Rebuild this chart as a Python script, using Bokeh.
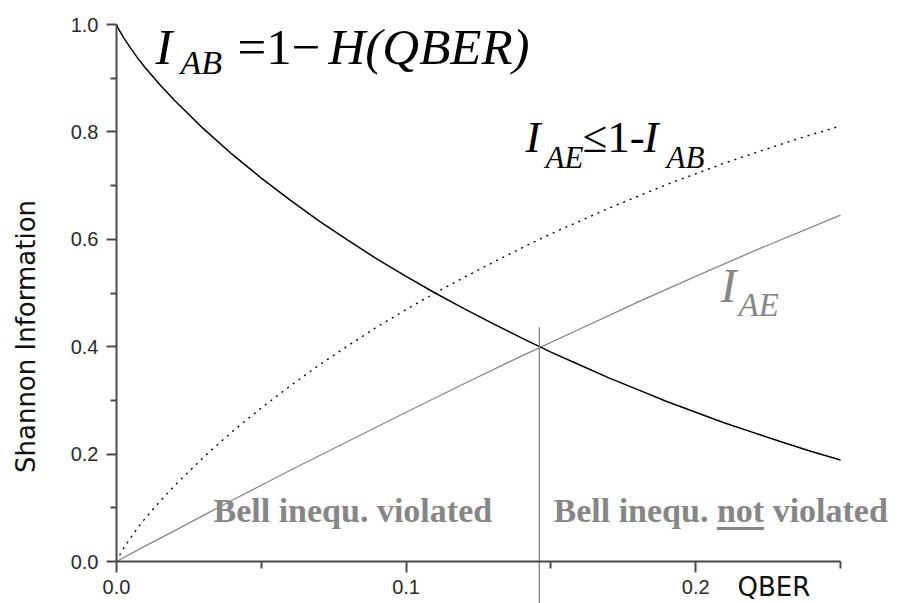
import math
from bokeh.plotting import figure
from bokeh.models import Range1d, FixedTicker, PrintfTickFormatter, Label, LinearAxis
from bokeh.embed import file_html
from bokeh.resources import INLINE

# ---------------- data ----------------
qber = [0.0, 0.0005, 0.001, 0.0025, 0.005, 0.0075, 0.01, 0.015, 0.02, 0.03, 0.04,
        0.05, 0.06, 0.07, 0.08, 0.09, 0.10, 0.11, 0.12, 0.13, 0.14, 0.15, 0.16,
        0.17, 0.18, 0.19, 0.20, 0.21, 0.22, 0.23, 0.24, 0.25]
# dotted curve: 1 - I_AB
one_minus_iab = [0.0, 0.006, 0.011, 0.025, 0.045, 0.064, 0.081, 0.112, 0.141, 0.194, 0.242,
                 0.286, 0.327, 0.366, 0.402, 0.437, 0.469, 0.500, 0.529, 0.557, 0.584, 0.610, 0.634,
                 0.658, 0.680, 0.702, 0.722, 0.742, 0.760, 0.778, 0.795, 0.811]
# solid black curve: I_AB = 1 - H(QBER)
i_ab = [1.0, 0.994, 0.989, 0.975, 0.955, 0.936, 0.919, 0.888, 0.859, 0.806, 0.758,
        0.714, 0.673, 0.634, 0.598, 0.563, 0.531, 0.500, 0.471, 0.443, 0.416, 0.390, 0.366,
        0.342, 0.320, 0.298, 0.278, 0.258, 0.240, 0.222, 0.205, 0.189]
# grey curve: I_AE
qber_ae = [0.0, 0.01, 0.02, 0.03, 0.04, 0.05, 0.06, 0.07, 0.08, 0.09, 0.10,
           0.12, 0.14, 0.16, 0.18, 0.20, 0.22, 0.25]
i_ae = [0.0, 0.029, 0.057, 0.086, 0.114, 0.142, 0.170, 0.197, 0.224, 0.251, 0.278,
        0.331, 0.383, 0.433, 0.483, 0.531, 0.578, 0.645]
threshold_qber = 0.146     # I_AB = I_AE crossing
threshold_line_top = 0.436
threshold_line_bottom = -0.08

x_bounds = (0.0, 0.25)
y_bounds = (0.0, 1.0)
x_ticks = [0.0, 0.1, 0.2]
x_minor_ticks = [0.05, 0.15, 0.25]
y_ticks = [0.0, 0.2, 0.4, 0.6, 0.8, 1.0]
y_minor_ticks = [0.1, 0.3, 0.5, 0.7, 0.9]
x_label = "QBER"
y_label = "Shannon Information"

# ---------------- layout (canvas pixel <-> data) ----------------
W, H = 901, 603
X0_PX, X_PER_UNIT = 116, 2896.0     # x=0 at 116 px, 0.25 at 840 px
Y0_PX, Y_PER_UNIT = 561, 537.0      # y=0 at 561 px, 1.0 at 24 px
BASELINE_FIX = 0.37                 # label baseline correction (fraction of font size)

def px_x(px):
    return (px - X0_PX) / X_PER_UNIT

def px_y(py):
    return (Y0_PX - py) / Y_PER_UNIT

GREY = "#868686"
AXIS = "#4a4a4a"
SERIF = "Liberation Serif"
SANS = "Liberation Sans"

p = figure(width=W, height=H, output_backend="svg", toolbar_location=None,
           x_range=Range1d(px_x(0), px_x(W)), y_range=Range1d(px_y(H), px_y(0)),
           x_axis_location=None, y_axis_location=None,
           min_border_left=0, min_border_right=0, min_border_top=0, min_border_bottom=0)
p.outline_line_color = None
p.grid.visible = False

xa = LinearAxis(fixed_location=0, bounds=x_bounds,
                ticker=FixedTicker(ticks=x_ticks, minor_ticks=x_minor_ticks),
                formatter=PrintfTickFormatter(format="%.1f"))
ya = LinearAxis(fixed_location=0, bounds=y_bounds,
                ticker=FixedTicker(ticks=y_ticks, minor_ticks=y_minor_ticks),
                formatter=PrintfTickFormatter(format="%.1f"))
for ax in (xa, ya):
    ax.axis_line_color = AXIS
    ax.axis_line_width = 2
    ax.major_tick_line_color = AXIS
    ax.major_tick_line_width = 2
    ax.minor_tick_line_color = AXIS
    ax.minor_tick_line_width = 2
    ax.major_tick_in = 0
    ax.minor_tick_in = 0
    ax.major_label_text_font = SANS
    ax.major_label_text_font_size = "20px"
    ax.major_label_text_color = "#2a2a2a"
xa.major_tick_out = 11
xa.minor_tick_out = 7
xa.major_label_standoff = 7
ya.major_tick_out = 10
ya.minor_tick_out = 6
ya.major_label_standoff = 8
p.add_layout(xa, "below")
p.add_layout(ya, "left")

# curves
p.line(qber, one_minus_iab, line_color="black", line_width=1.4, line_dash="2 5")
p.line(qber_ae, i_ae, line_color=GREY, line_width=1.3)
p.line(qber, i_ab, line_color="black", line_width=1.5)
p.segment(x0=[threshold_qber], y0=[threshold_line_bottom], x1=[threshold_qber], y1=[threshold_line_top],
          line_color=GREY, line_width=1.3)

def txt(xp, yp, text, size, style="italic", color="black", font=SERIF):
    """xp: left edge (px), yp: baseline (px)"""
    p.add_layout(Label(x=px_x(xp), y=px_y(yp - BASELINE_FIX * size), text=text,
                       text_font=font, text_font_size=f"{size}px",
                       text_font_style=style, text_color=color,
                       text_align="left", text_baseline="alphabetic"))

# I_AB = 1 - H(QBER)
txt(155, 65, "I", 51)
txt(180, 75, "AB", 34)
txt(237, 65, "=1\u2212", 51, style="normal")
txt(328, 65, "H(QBER)", 51)

# I_AE <= 1 - I_AB
txt(525, 153, "I", 45)
txt(545, 168, "AE", 31)
txt(582, 153, "\u22641-", 45, style="normal")
txt(643, 153, "I", 45)
txt(666, 168, "AB", 31)

# grey I_AE
txt(720, 303, "I", 48, color=GREY)
txt(738, 317, "AE", 33, color=GREY)

# Bell texts
bell_size = 34
txt(213, 523, "Bell inequ. violated", bell_size, style="bold", color=GREY)
bell2_x = 553
txt(bell2_x, 523, "Bell inequ. not violated", bell_size, style="bold", color=GREY)
# underline below "not" (Times bold em widths: "Bell inequ. " = 4.807 em, "not" = 1.389 em)
ul_start = bell2_x + 4.807 * bell_size
ul_end = ul_start + 1.389 * bell_size
p.segment(x0=[px_x(ul_start)], y0=[px_y(528)], x1=[px_x(ul_end)], y1=[px_y(528)],
          line_color=GREY, line_width=3)

# x axis title at the right
txt(737, 596, x_label, 26, style="normal", color="#111111", font="DejaVu Sans")

# y axis title (rotated), centred where the reference centres it
ylab_size = 26
p.add_layout(Label(x=px_x(35 - BASELINE_FIX * ylab_size), y=px_y(336), text=y_label,
                   angle=math.pi / 2, text_font="DejaVu Sans", text_font_size=f"{ylab_size}px",
                   text_color="#111111", text_align="center", text_baseline="alphabetic"))

open("out.html", "w").write(file_html(p, INLINE))
